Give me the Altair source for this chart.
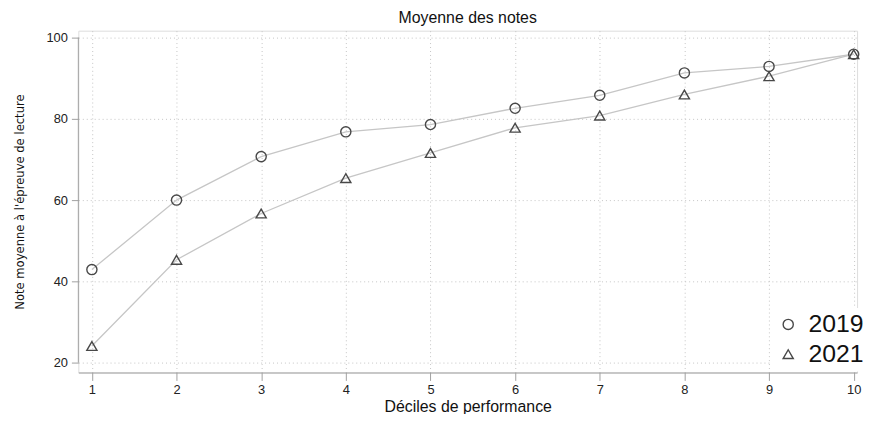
import altair as alt
import pandas as pd

deciles = [1, 2, 3, 4, 5, 6, 7, 8, 9, 10]
notes_2019 = [42.9, 60.0, 70.7, 76.8, 78.6, 82.6, 85.8, 91.3, 92.9, 95.9]
notes_2021 = [24.1, 45.3, 56.7, 65.4, 71.6, 77.8, 80.8, 86.0, 90.5, 95.9]
years = ["2019", "2021"]

rows = []
for d, v in zip(deciles, notes_2019):
    rows.append({"decile": d, "note": v, "annee": years[0]})
for d, v in zip(deciles, notes_2021):
    rows.append({"decile": d, "note": v, "annee": years[1]})
df = pd.DataFrame(rows)

ydom = [17.56, 101.7]

x = alt.X("decile:Q",
          scale=alt.Scale(domain=[0.84, 10.04], nice=False, zero=False),
          axis=alt.Axis(values=deciles, title="Déciles de performance", grid=True,
                        gridDash=[1, 3], gridColor="#c4c4c4", domainColor="#a0a0a0",
                        tickColor="#a0a0a0", tickSize=8, labelFontSize=13,
                        labelPadding=3, titleFontSize=16, titlePadding=2,
                        titleFontWeight="normal", labelColor="#222", titleColor="#111"))
y = alt.Y("note:Q",
          scale=alt.Scale(domain=ydom, nice=False, zero=False),
          axis=alt.Axis(values=[20, 40, 60, 80, 100], title="Note moyenne à l'épreuve de lecture",
                        grid=True, gridDash=[1, 3], gridColor="#c4c4c4", domain=False,
                        tickColor="#a0a0a0", tickSize=7, labelFontSize=13, labelPadding=4,
                        titleFontSize=13, titleFont="DejaVu Sans Condensed, Liberation Sans Narrow, sans-serif",
                        titleFontWeight="normal", titlePadding=20, labelColor="#222", titleColor="#111"))

base = alt.Chart(df)

lines = base.mark_line(color="#c6c6c6", strokeWidth=1.3).encode(x=x, y=y, detail="annee:N")

points = base.mark_point(filled=False, color="#484848", strokeWidth=1.4, size=105, opacity=1).encode(
    x=x, y=y,
    shape=alt.Shape("annee:N",
                    scale=alt.Scale(domain=years, range=["circle", "triangle-up"]),
                    legend=alt.Legend(title=None, orient="none", legendX=700, legendY=280,
                                      labelFontSize=25, symbolSize=105, symbolStrokeColor="#484848",
                                      symbolStrokeWidth=1.4, symbolType="circle",
                                      labelColor="#111", fillColor="white", padding=4,
                                      rowPadding=4, labelOffset=8)),
)

axis_line = alt.Chart(pd.DataFrame({"a": [20], "b": [100]})).mark_rule(color="#a0a0a0").encode(
    x=alt.value(0), y=alt.Y("a:Q", scale=alt.Scale(domain=ydom, nice=False, zero=False)),
    y2="b:Q")

chart = alt.layer(lines, points, axis_line).properties(
    width=786, height=345,
    title=alt.TitleParams("Moyenne des notes", fontSize=16, fontWeight="normal", color="#111", offset=5),
    autosize=alt.AutoSizeParams(type="none"),
    padding={"left": 71, "top": 21, "right": 8, "bottom": 40},
).configure_view(stroke=None).configure(font="Liberation Sans")

chart.save("out.html", embed_options={"renderer": "svg", "actions": False})
